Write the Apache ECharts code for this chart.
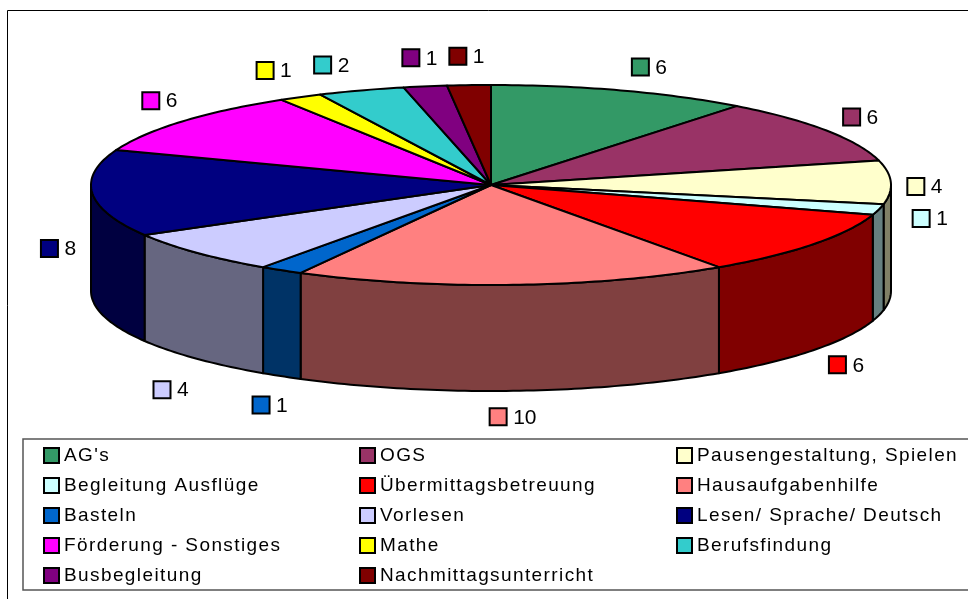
<!DOCTYPE html>
<html>
<head>
<meta charset="utf-8">
<style>
    html, body {margin: 0; padding: 0; background: #fff;}
    #chart {width: 968px; height: 599px;}
</style>
<script src="https://cdn.jsdelivr.net/npm/echarts@6/dist/echarts.min.js"></script>
</head>
<body>
<div id="chart"></div>
<script>
const categories = [
    "AG's", "OGS", "Pausengestaltung, Spielen",
    "Begleitung Ausflüge", "Übermittagsbetreuung", "Hausaufgabenhilfe",
    "Basteln", "Vorlesen", "Lesen/ Sprache/ Deutsch",
    "Förderung - Sonstiges", "Mathe", "Berufsfindung",
    "Busbegleitung", "Nachmittagsunterricht"
];
const values = [6, 6, 4, 1, 6, 10, 1, 4, 8, 6, 1, 2, 1, 1];
const topColors = [
    '#339966', '#993366', '#FFFFCC', '#CCFFFF', '#FF0000', '#FF8080', '#0066CC',
    '#CCCCFF', '#000080', '#FF00FF', '#FFFF00', '#33CCCC', '#800080', '#800000'
];
const sideColors = [
    '#1a4d33', '#4d1a33', '#808066', '#668080', '#800000', '#804040', '#003366',
    '#666680', '#000040', '#800080', '#808000', '#1a6666', '#400040', '#400000'
];
// hand tweaks for the value labels, relative to the spot worked out from each slice's middle
const labelNudge = [
    [13, 3], [9, 2], [5, 5], [23, -104], [8, -2], [-16, -2], [-10, 5],
    [-20, 12], [-23, -53], [-16, -3], [-26, -2], [-32, 1], [-11, -1], [-10, -1]
];

const cx = 491, cy = 185, rx = 400, ry = 100, depth = 106;
const total = values.reduce((a, b) => a + b, 0);
const FONT = '"Liberation Sans", Arial, sans-serif';

function angleAt(index) {
    let sum = 0;
    for (let i = 0; i < index; i++) sum += values[i];
    return sum / total * 360;
}

function rim(deg, drop) {
    const t = deg * Math.PI / 180;
    return [cx + rx * Math.sin(t), cy - ry * Math.cos(t) + (drop || 0)];
}

function arc(from, to, drop) {
    const pts = [];
    const steps = Math.max(2, Math.ceil(to - from));
    for (let i = 0; i <= steps; i++) {
        pts.push(rim(from + (to - from) * i / steps, drop));
    }
    return pts;
}

const edge = {stroke: '#000', lineWidth: 2, lineJoin: 'round'};

function renderSlice(params) {
    const i = params.seriesIndex;
    const start = angleAt(i), end = angleAt(i + 1);
    const children = [];

    // only the front half of the cylinder shows a wall
    const wallFrom = Math.max(start, 90), wallTo = Math.min(end, 270);
    if (wallFrom < wallTo) {
        const wall = arc(wallFrom, wallTo, 0).concat(arc(wallFrom, wallTo, depth).reverse());
        children.push({
            type: 'polygon',
            shape: {points: wall},
            style: Object.assign({fill: sideColors[i]}, edge)
        });
    }

    children.push({
        type: 'polygon',
        shape: {points: [[cx, cy]].concat(arc(start, end, 0))},
        style: Object.assign({fill: topColors[i]}, edge),
        z2: 5
    });

    const mid = (start + end) / 2 * Math.PI / 180;
    const lx = cx + 420 * Math.sin(mid) + labelNudge[i][0];
    const ly = cy - 128 * Math.cos(mid) + (Math.cos(mid) < 0 ? depth : 0) + labelNudge[i][1];
    children.push({
        type: 'rect',
        shape: {x: lx - 8.5, y: ly - 8.5, width: 17, height: 17},
        style: {fill: topColors[i], stroke: '#000', lineWidth: 2},
        z2: 6
    });
    children.push({
        type: 'text',
        x: lx + 15,
        y: ly + 1,
        style: {
            text: String(values[i]),
            font: '21px ' + FONT,
            fill: '#000',
            textVerticalAlign: 'middle'
        },
        z2: 6
    });

    return {type: 'group', children: children};
}

function legendColumn(left, names) {
    return {
        left: left,
        top: 446,
        zlevel: 1,
        orient: 'vertical',
        padding: 0,
        itemGap: 11,
        itemWidth: 15,
        itemHeight: 15,
        icon: 'rect',
        selectedMode: false,
        itemStyle: {borderColor: '#000', borderWidth: 2},
        textStyle: {fontFamily: FONT, fontSize: 19, color: '#000', lineHeight: 16, padding: 0},
        data: names
    };
}

const chart = echarts.init(document.getElementById('chart'), null, {renderer: 'canvas'});

// the legend sits on its own canvas layer so only its text gets the wide spacing
chart.getZr().painter.getLayer(1).ctx.letterSpacing = '1.4px';

chart.setOption({
    animation: false,
    backgroundColor: '#fff',
    legend: [
        legendColumn(43, categories.filter((c, i) => i % 3 === 0)),
        legendColumn(359, categories.filter((c, i) => i % 3 === 1)),
        legendColumn(676, categories.filter((c, i) => i % 3 === 2))
    ],
    graphic: [
        {
            type: 'rect',
            silent: true,
            shape: {x: 7.5, y: 10.5, width: 1000, height: 700},
            style: {fill: 'none', stroke: '#000', lineWidth: 1}
        },
        {
            type: 'rect',
            silent: true,
            shape: {x: 23, y: 439, width: 1000, height: 151},
            style: {fill: 'none', stroke: '#555', lineWidth: 1.5}
        }
    ],
    series: categories.map((name, i) => ({
        type: 'custom',
        name: name,
        coordinateSystem: 'none',
        silent: true,
        itemStyle: {color: topColors[i]},
        data: [values[i]],
        renderItem: renderSlice
    }))
});
</script>
</body>
</html>
